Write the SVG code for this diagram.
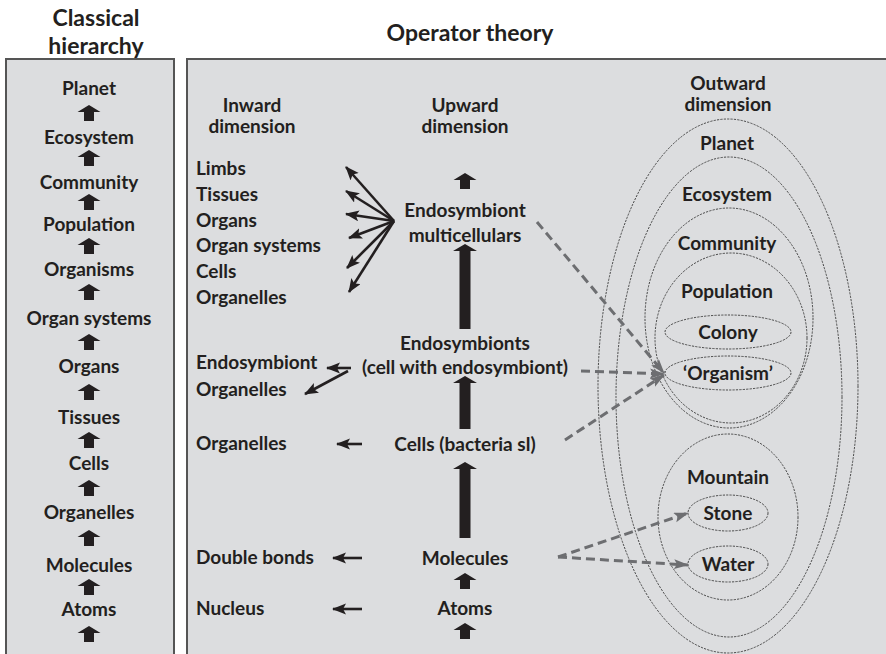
<svg xmlns="http://www.w3.org/2000/svg" width="886" height="654" viewBox="0 0 886 654">
  <style>
    text { font-family: "Lato", "Liberation Sans", sans-serif; font-weight: bold; fill: #231f20; }
    .title { font-size: 23px; }
    .lbl { font-size: 19px; }
    .mid { text-anchor: middle; }
    .panel { fill: #dcdddf; stroke: #555555; stroke-width: 2; }
    .blk { fill: #231f20; }
    .ln { stroke: #231f20; stroke-width: 2.6; fill: none; marker-end: url(#headBlack); }
    .dsh { stroke: #6d6e71; stroke-width: 3; fill: none; stroke-dasharray: 9 5; }
    .dsh-arr { marker-end: url(#headGray); }
    .ring { fill: none; stroke: #3a3a3a; stroke-width: 0.9; stroke-dasharray: 2.2 1.2; }
  </style>
  <defs>
    <path id="up" d="M0,0 L11.5,7 L5,7 L5,16 L-5,16 L-5,7 L-11.5,7 Z"/>
    <marker id="headBlack" markerUnits="userSpaceOnUse" markerWidth="15" markerHeight="12" refX="13" refY="5.5" orient="auto">
      <path d="M0,0 L14,5.5 L0,11 L3,5.5 Z" fill="#231f20"/>
    </marker>
    <marker id="headGray" markerUnits="userSpaceOnUse" markerWidth="16" markerHeight="12" refX="14" refY="5" orient="auto">
      <path d="M0,0 L15,5 L0,10 L3,5 Z" fill="#6d6e71"/>
    </marker>
  </defs>

  <rect width="886" height="654" fill="#ffffff"/>

  <!-- headings -->
  <text class="title mid" x="96" y="26">Classical</text>
  <text class="title mid" x="96" y="54">hierarchy</text>
  <text class="title mid" x="470" y="41">Operator theory</text>

  <!-- panels -->
  <rect class="panel" x="6" y="59" width="168" height="600"/>
  <rect class="panel" x="187" y="59" width="710" height="600"/>

  <!-- classical hierarchy column -->
  <g id="classical">
    <text class="lbl mid" x="89" y="95">Planet</text>
    <use href="#up" class="blk" x="89" y="105"/>
    <text class="lbl mid" x="89" y="144">Ecosystem</text>
    <use href="#up" class="blk" x="89" y="150"/>
    <text class="lbl mid" x="89" y="189">Community</text>
    <use href="#up" class="blk" x="89" y="194"/>
    <text class="lbl mid" x="89" y="231">Population</text>
    <use href="#up" class="blk" x="89" y="238"/>
    <text class="lbl mid" x="89" y="276">Organisms</text>
    <use href="#up" class="blk" x="89" y="284"/>
    <text class="lbl mid" x="89" y="325">Organ systems</text>
    <use href="#up" class="blk" x="89" y="334"/>
    <text class="lbl mid" x="89" y="373">Organs</text>
    <use href="#up" class="blk" x="89" y="384"/>
    <text class="lbl mid" x="89" y="424">Tissues</text>
    <use href="#up" class="blk" x="89" y="432"/>
    <text class="lbl mid" x="89" y="470">Cells</text>
    <use href="#up" class="blk" x="89" y="480"/>
    <text class="lbl mid" x="89" y="519">Organelles</text>
    <use href="#up" class="blk" x="89" y="530"/>
    <text class="lbl mid" x="89" y="572">Molecules</text>
    <use href="#up" class="blk" x="89" y="579"/>
    <text class="lbl mid" x="89" y="616">Atoms</text>
    <use href="#up" class="blk" x="89" y="626"/>
  </g>

  <!-- column headers -->
  <g id="headers">
    <text class="lbl mid" x="252" y="112">Inward</text>
    <text class="lbl mid" x="252" y="133">dimension</text>
    <text class="lbl mid" x="465" y="112">Upward</text>
    <text class="lbl mid" x="465" y="133">dimension</text>
    <text class="lbl mid" x="728" y="90">Outward</text>
    <text class="lbl mid" x="728" y="111">dimension</text>
  </g>

  <!-- inward dimension -->
  <g id="inward">
    <text class="lbl" x="196" y="175">Limbs</text>
    <text class="lbl" x="196" y="201">Tissues</text>
    <text class="lbl" x="196" y="227">Organs</text>
    <text class="lbl" x="196" y="252">Organ systems</text>
    <text class="lbl" x="196" y="278">Cells</text>
    <text class="lbl" x="196" y="304">Organelles</text>
    <text class="lbl" x="196" y="369">Endosymbiont</text>
    <text class="lbl" x="196" y="396">Organelles</text>
    <text class="lbl" x="196" y="450">Organelles</text>
    <text class="lbl" x="196" y="564">Double bonds</text>
    <text class="lbl" x="196" y="615">Nucleus</text>
  </g>

  <!-- upward dimension -->
  <g id="upward">
    <use href="#up" class="blk" x="465" y="173"/>
    <text class="lbl mid" x="465" y="217">Endosymbiont</text>
    <text class="lbl mid" x="465" y="242">multicellulars</text>
    <path class="blk" d="M465,244 L477,251 L470.5,251 L470.5,329 L459.5,329 L459.5,251 L453,251 Z"/>
    <text class="lbl mid" x="465" y="350">Endosymbionts</text>
    <text class="lbl mid" x="465" y="374">(cell with endosymbiont)</text>
    <path class="blk" d="M465,376 L477,383 L470.5,383 L470.5,429 L459.5,429 L459.5,383 L453,383 Z"/>
    <text class="lbl mid" x="465" y="451">Cells (bacteria sl)</text>
    <path class="blk" d="M465,462 L477,469 L470.5,469 L470.5,538 L459.5,538 L459.5,469 L453,469 Z"/>
    <text class="lbl mid" x="465" y="565">Molecules</text>
    <use href="#up" class="blk" x="465" y="573"/>
    <text class="lbl mid" x="465" y="615">Atoms</text>
    <use href="#up" class="blk" x="465" y="623"/>
  </g>

  <!-- outward dimension -->
  <g id="outward">
    <ellipse class="ring" cx="728" cy="386" rx="130" ry="267"/>
    <ellipse class="ring" cx="729" cy="397" rx="113" ry="240"/>
    <ellipse class="ring" cx="729" cy="318" rx="84" ry="110"/>
    <ellipse class="ring" cx="731" cy="338" rx="76" ry="85"/>
    <ellipse class="ring" cx="728" cy="332" rx="63" ry="17"/>
    <ellipse class="ring" cx="728" cy="373" rx="63" ry="17"/>
    <ellipse class="ring" cx="728" cy="517" rx="70" ry="83"/>
    <ellipse class="ring" cx="728" cy="513" rx="40" ry="18"/>
    <ellipse class="ring" cx="728" cy="564" rx="40" ry="18"/>
    <text class="lbl mid" x="727" y="150">Planet</text>
    <text class="lbl mid" x="727" y="201">Ecosystem</text>
    <text class="lbl mid" x="727" y="250">Community</text>
    <text class="lbl mid" x="727" y="298">Population</text>
    <text class="lbl mid" x="728" y="339">Colony</text>
    <text class="lbl mid" x="728" y="380">‘Organism’</text>
    <text class="lbl mid" x="728" y="484">Mountain</text>
    <text class="lbl mid" x="728" y="520">Stone</text>
    <text class="lbl mid" x="728" y="571">Water</text>
  </g>

  <!-- connectors -->
  <g id="connectors">
    <!-- fan from endosymbiont multicellulars -->
    <line class="ln" x1="394" y1="221" x2="346" y2="167"/>
    <line class="ln" x1="394" y1="221" x2="346" y2="191"/>
    <line class="ln" x1="394" y1="221" x2="346" y2="214"/>
    <line class="ln" x1="394" y1="221" x2="349" y2="238"/>
    <line class="ln" x1="394" y1="221" x2="347" y2="268"/>
    <line class="ln" x1="394" y1="221" x2="349" y2="292"/>
    <!-- from endosymbionts -->
    <line class="ln" x1="351" y1="368" x2="327" y2="368"/>
    <line class="ln" x1="348" y1="371" x2="305" y2="394"/>
    <!-- simple inward arrows -->
    <line class="ln" x1="362" y1="444" x2="337" y2="444"/>
    <line class="ln" x1="362" y1="558" x2="333" y2="558"/>
    <line class="ln" x1="362" y1="609" x2="333" y2="609"/>
    <!-- dashed links to outward dimension -->
    <line class="dsh dsh-arr" x1="537" y1="222" x2="664" y2="373"/>
    <line class="dsh dsh-arr" x1="581" y1="371" x2="664" y2="374"/>
    <line class="dsh dsh-arr" x1="565" y1="440" x2="664" y2="375"/>
    <line class="dsh dsh-arr" x1="558" y1="557" x2="688" y2="513"/>
    <line class="dsh dsh-arr" x1="558" y1="557" x2="688" y2="565"/>
  </g>
</svg>
